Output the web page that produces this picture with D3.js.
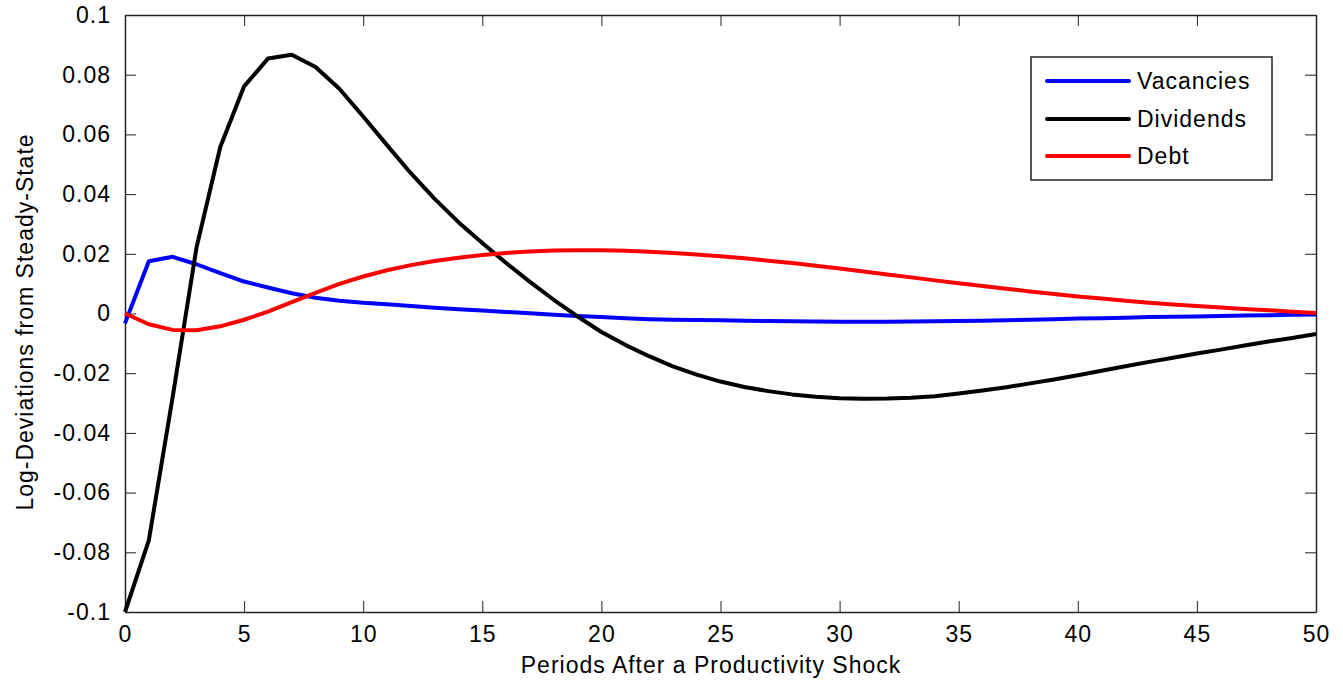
<!DOCTYPE html>
<html><head><meta charset="utf-8">
<script src="https://cdn.jsdelivr.net/npm/d3@7"></script>
<style>body{margin:0;background:#fff;} text{font-family:"Liberation Sans",Arial,sans-serif;}</style>
</head><body>
<svg id="c" width="1343" height="682"></svg>
<script>
const periods = d3.range(0, 51);
const vacancies = [-0.0033,0.0175,0.0190,0.0165,0.0135,0.0107,0.0087,0.0068,0.0053,0.0043,0.0036,0.0031,0.0025,0.0019,0.0014,0.0010,0.0005,0.0001,-0.0004,-0.0008,-0.0012,-0.0016,-0.0019,-0.0021,-0.0022,-0.0023,-0.0024,-0.0025,-0.0026,-0.0027,-0.0028,-0.0028,-0.0028,-0.0027,-0.0026,-0.0025,-0.0024,-0.0023,-0.0021,-0.0019,-0.0017,-0.0016,-0.0014,-0.0012,-0.0011,-0.0010,-0.0008,-0.0007,-0.0006,-0.0004,-0.0003];
const dividends = [-0.100,-0.076,-0.028,0.022,0.0558,0.0761,0.0854,0.0867,0.0826,0.0753,0.0660,0.0564,0.0470,0.0384,0.0306,0.0236,0.0169,0.0106,0.0046,-0.0010,-0.0062,-0.0105,-0.0143,-0.0177,-0.0205,-0.0228,-0.0246,-0.0260,-0.0271,-0.0279,-0.0284,-0.0286,-0.0285,-0.0282,-0.0277,-0.0268,-0.0258,-0.0247,-0.0234,-0.0221,-0.0207,-0.0192,-0.0177,-0.0162,-0.0148,-0.0134,-0.0121,-0.0107,-0.0094,-0.0082,-0.0069];
const debt = [0,-0.0036,-0.0055,-0.0056,-0.0043,-0.0021,0.0006,0.0038,0.0069,0.0099,0.0124,0.0145,0.0162,0.0176,0.0187,0.0196,0.0203,0.0208,0.0211,0.0212,0.0212,0.0210,0.0207,0.0203,0.0198,0.0192,0.0185,0.0177,0.0169,0.0160,0.0151,0.0141,0.0131,0.0121,0.0111,0.0101,0.0092,0.0083,0.0074,0.0065,0.0057,0.0050,0.0043,0.0036,0.0030,0.0025,0.0020,0.0015,0.0011,0.0006,0.0002];
const seriesNames = ["Vacancies","Dividends","Debt"];
const seriesColors = ["#0000ff","#000000","#ff0000"];
const xTicks = [0,5,10,15,20,25,30,35,40,45,50];
const yTicks = [-0.1,-0.08,-0.06,-0.04,-0.02,0,0.02,0.04,0.06,0.08,0.1];
const yTickLabels = ["-0.1","-0.08","-0.06","-0.04","-0.02","0","0.02","0.04","0.06","0.08","0.1"];

const svg = d3.select("#c");
const L=125, R=1316, T=15, B=612;
const x = d3.scaleLinear().domain([0,50]).range([L,R]);
const y = d3.scaleLinear().domain([-0.1,0.1]).range([B,T]);
const fs = 23, ls = "1px";

const xb = svg.append("g").attr("transform",`translate(0,${B})`)
  .call(d3.axisBottom(x).tickValues(xTicks).tickSizeInner(-11).tickSizeOuter(0).tickPadding(14).tickFormat(d3.format("d")));
const xt = svg.append("g").attr("transform",`translate(0,${T})`)
  .call(d3.axisTop(x).tickValues(xTicks).tickSizeInner(-11).tickSizeOuter(0).tickFormat(""));
const yl = svg.append("g").attr("transform",`translate(${L},0)`)
  .call(d3.axisLeft(y).tickValues(yTicks).tickSizeInner(-11).tickSizeOuter(0).tickPadding(14).tickFormat((d,i)=>yTickLabels[i]));
const yr = svg.append("g").attr("transform",`translate(${R},0)`)
  .call(d3.axisRight(y).tickValues(yTicks).tickSizeInner(-11).tickSizeOuter(0).tickFormat(""));
[xb,xt,yl,yr].forEach(g=>{
  g.selectAll("path").attr("stroke","#222").attr("stroke-width",1.5);
  g.selectAll("line").attr("stroke","#222").attr("stroke-width",1);
  g.selectAll("text").attr("font-size",fs).attr("fill","#000").style("letter-spacing",ls)
    .style("font-family","'Liberation Sans',Arial,sans-serif");
});
xb.selectAll("text").attr("dy","0.71em");

const line = d3.line().x((d,i)=>x(periods[i])).y(d=>y(d));
const allSeries = [vacancies, dividends, debt];
const plot = svg.append("g");
[0,1,2].forEach(k=>{
  plot.append("path").datum(allSeries[k]).attr("d",line).attr("fill","none")
    .attr("stroke",seriesColors[k]).attr("stroke-width",4).attr("stroke-linejoin","round");
});

svg.append("text").attr("x",711).attr("y",673).attr("text-anchor","middle").attr("font-size",fs)
  .style("letter-spacing",ls).text("Periods After a Productivity Shock");
svg.append("text").attr("transform",`translate(33,322) rotate(-90)`).attr("text-anchor","middle").attr("font-size",fs)
  .style("letter-spacing",ls).text("Log-Deviations from Steady-State");

const lg = svg.append("g");
lg.append("rect").attr("x",1031).attr("y",57).attr("width",241).attr("height",123)
  .attr("fill","#fff").attr("stroke","#222").attr("stroke-width",1.5);
const ly = [81,119,156];
seriesNames.forEach((n,i)=>{
  lg.append("line").attr("x1",1047).attr("x2",1129).attr("y1",ly[i]).attr("y2",ly[i])
    .attr("stroke",seriesColors[i]).attr("stroke-width",4).attr("stroke-linecap","round");
  lg.append("text").attr("x",1137).attr("y",ly[i]).attr("dy","0.35em").attr("font-size",fs)
    .style("letter-spacing",ls).text(n);
});
</script>
</body></html>
